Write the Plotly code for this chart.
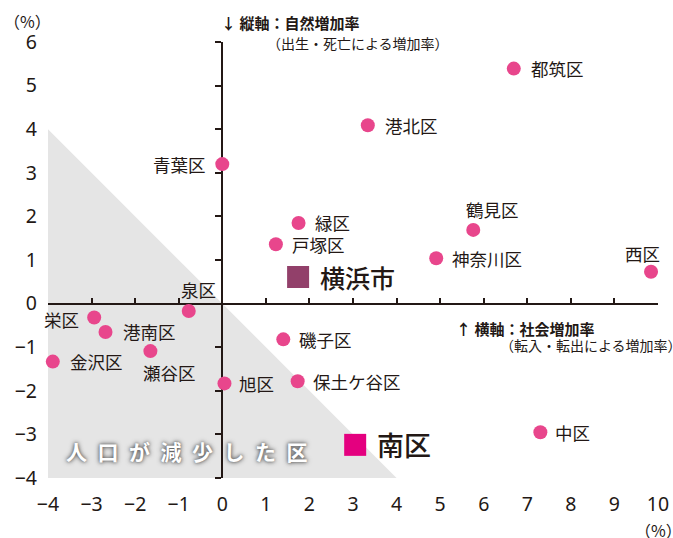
import plotly.graph_objects as go

# ---- data ----
districts = ["都筑区", "港北区", "鶴見区", "神奈川区", "西区", "青葉区", "緑区", "戸塚区",
             "泉区", "栄区", "港南区", "瀬谷区", "金沢区", "旭区", "磯子区", "保土ケ谷区", "中区"]
social_rate = [6.69, 3.34, 5.76, 4.91, 9.84, 0.0, 1.75, 1.23,
               -0.77, -2.94, -2.68, -1.65, -3.89, 0.05, 1.40, 1.73, 7.30]
natural_rate = [5.39, 4.09, 1.69, 1.04, 0.73, 3.20, 1.85, 1.36,
                -0.17, -0.32, -0.65, -1.09, -1.33, -1.83, -0.82, -1.78, -2.95]

city_name = "横浜市"
city_social = [1.74]
city_natural = [0.61]

minami_name = "南区"
minami_social = [3.05]
minami_natural = [-3.24]

x_ticks = list(range(-4, 11))
y_ticks = list(range(-4, 7))
X_MIN, X_MAX = -4, 10
Y_MIN, Y_MAX = -4, 6
DECLINE_LIMIT = 4  # shaded region: x + y < 0 within the chart

# label placement (style only): (xanchor, xshift, yshift)
label_pos = {
    "都筑区": ("left", 15, 0), "港北区": ("left", 15, 0), "鶴見区": ("center", 19, 20),
    "神奈川区": ("left", 14, 0), "西区": ("center", -9, 18), "青葉区": ("right", -14, 0),
    "緑区": ("left", 14, 0), "戸塚区": ("left", 14, 0), "泉区": ("center", 10, 22),
    "栄区": ("right", -13, -2), "港南区": ("left", 15, 0), "瀬谷区": ("center", 19, -21),
    "金沢区": ("left", 15, 0), "旭区": ("left", 13, 0), "磯子区": ("left", 14, 0),
    "保土ケ谷区": ("left", 13, 0), "中区": ("left", 13, 0),
}

DARK = "#231815"
PINK = "#e8468c"
JP = "Noto Sans CJK JP"
NUM = "Noto Sans"

fig = go.Figure()

fig.add_trace(go.Scatter(
    x=social_rate, y=natural_rate, mode="markers",
    marker=dict(size=14, color=PINK, line=dict(width=0)),
    cliponaxis=False, hoverinfo="skip", showlegend=False))
fig.add_trace(go.Scatter(
    x=city_social, y=city_natural, mode="markers",
    marker=dict(size=22, symbol="square", color="#92406a", line=dict(width=0)),
    cliponaxis=False, showlegend=False))
fig.add_trace(go.Scatter(
    x=minami_social, y=minami_natural, mode="markers",
    marker=dict(size=22, symbol="square", color="#e4007f", line=dict(width=0)),
    cliponaxis=False, showlegend=False))
# empty traces so the label-only axes are drawn
fig.add_trace(go.Scatter(x=[], y=[], xaxis="x2", yaxis="y", showlegend=False, hoverinfo="skip"))
fig.add_trace(go.Scatter(x=[], y=[], xaxis="x", yaxis="y2", showlegend=False, hoverinfo="skip"))

# shaded decline region (triangle bounded by x+y=0)
L = DECLINE_LIMIT
fig.add_shape(type="path", xref="x", yref="y",
              path=f"M {-L} {L} L {-L} {-L} L {L} {-L} Z",
              fillcolor="#e5e5e5", line=dict(width=0), layer="below")

annotations = []
for name, xv, yv in zip(districts, social_rate, natural_rate):
    anc, xs, ys = label_pos[name]
    annotations.append(dict(x=xv, y=yv, xref="x", yref="y", text=name, showarrow=False,
                            xanchor=anc, yanchor="middle", xshift=xs, yshift=ys,
                            font=dict(family=JP, size=17.5, color=DARK)))
annotations.append(dict(x=city_social[0], y=city_natural[0], xref="x", yref="y", text=city_name,
                        showarrow=False, xanchor="left", yanchor="middle", xshift=20, yshift=0,
                        font=dict(family=JP, size=25, color=DARK, weight=500)))
annotations.append(dict(x=minami_social[0], y=minami_natural[0], xref="x", yref="y", text=minami_name,
                        showarrow=False, xanchor="left", yanchor="middle", xshift=20, yshift=0,
                        font=dict(family=JP, size=27, color=DARK, weight=500)))

sp = "\u2002"
annotations.append(dict(x=-4, y=-4, xref="x", yref="y", text=sp.join("人口が減少した区"),
                        showarrow=False, xanchor="left", yanchor="middle", xshift=16, yshift=27,
                        font=dict(family=JP, size=21, color="white", weight="bold",
                                  shadow="0px 0px 5px #444, 0px 0px 3px #888")))

# axis titles
annotations.append(dict(x=0, y=1, xref="x", yref="paper", text="↓ 縦軸：自然増加率",
                        showarrow=False, xanchor="left", yanchor="middle", xshift=-3, yshift=20,
                        font=dict(family=JP, size=15, color=DARK, weight="bold")))
annotations.append(dict(x=0, y=1, xref="x", yref="paper", text="（出生・死亡による増加率）",
                        showarrow=False, xanchor="left", yanchor="middle", xshift=43, yshift=-1,
                        font=dict(family=JP, size=14, color=DARK)))
annotations.append(dict(x=0, y=0, xref="x", yref="y", text="↑ 横軸：社会増加率",
                        showarrow=False, xanchor="left", yanchor="middle", xshift=232, yshift=-25,
                        font=dict(family=JP, size=15, color=DARK, weight="bold")))
annotations.append(dict(x=0, y=0, xref="x", yref="y", text="（転入・転出による増加率）",
                        showarrow=False, xanchor="left", yanchor="middle", xshift=276, yshift=-41,
                        font=dict(family=JP, size=14, color=DARK)))
annotations.append(dict(x=0, y=1, xref="paper", yref="paper", text="（%）",
                        showarrow=False, xanchor="center", yanchor="middle", xshift=-21, yshift=21,
                        font=dict(family=JP, size=16, color=DARK)))
annotations.append(dict(x=1, y=0, xref="paper", yref="paper", text="（%）",
                        showarrow=False, xanchor="center", yanchor="middle", xshift=0, yshift=-52,
                        font=dict(family=JP, size=16, color=DARK)))

x_zero_pos = (0 - Y_MIN) / (Y_MAX - Y_MIN)
y_zero_pos = (0 - X_MIN) / (X_MAX - X_MIN)

fig.update_layout(
    template="none",
    width=673, height=538,
    margin=dict(l=48, r=15, t=42, b=60, autoexpand=False),
    paper_bgcolor="white", plot_bgcolor="white",
    showlegend=False,
    annotations=annotations,
    xaxis=dict(range=[X_MIN, X_MAX], anchor="free", position=x_zero_pos, automargin=False,
               showline=True, linecolor=DARK, linewidth=2,
               ticks="inside", ticklen=5, tickwidth=1.5, tickcolor=DARK,
               tickmode="array", tickvals=x_ticks, showticklabels=False,
               showgrid=False, zeroline=False, layer="below traces", fixedrange=True),
    yaxis=dict(range=[Y_MIN, Y_MAX], anchor="free", position=y_zero_pos, automargin=False,
               showline=True, linecolor=DARK, linewidth=2,
               ticks="outside", ticklen=6, tickwidth=1.5, tickcolor=DARK,
               tickmode="array", tickvals=y_ticks, showticklabels=False,
               showgrid=False, zeroline=False, layer="below traces", fixedrange=True),
    xaxis2=dict(range=[X_MIN, X_MAX], overlaying="x", anchor="y", side="bottom", automargin=False,
                showline=False, ticks="", tickmode="array", tickvals=x_ticks,
                tickfont=dict(family=NUM, size=19.5, color=DARK), ticklabelstandoff=12,
                showgrid=False, zeroline=False, fixedrange=True),
    yaxis2=dict(range=[Y_MIN, Y_MAX], overlaying="y", anchor="x", side="left", automargin=False,
                showline=False, ticks="", tickmode="array", tickvals=y_ticks,
                tickfont=dict(family=NUM, size=19.5, color=DARK), ticklabelstandoff=10,
                showgrid=False, zeroline=False, fixedrange=True),
)

# remove the page's default body margin so the 673x538 figure fills the window exactly
fig.write_html("out.html", config={"displayModeBar": False},
               post_script="document.body.style.margin='0';document.body.style.overflow='hidden';")
